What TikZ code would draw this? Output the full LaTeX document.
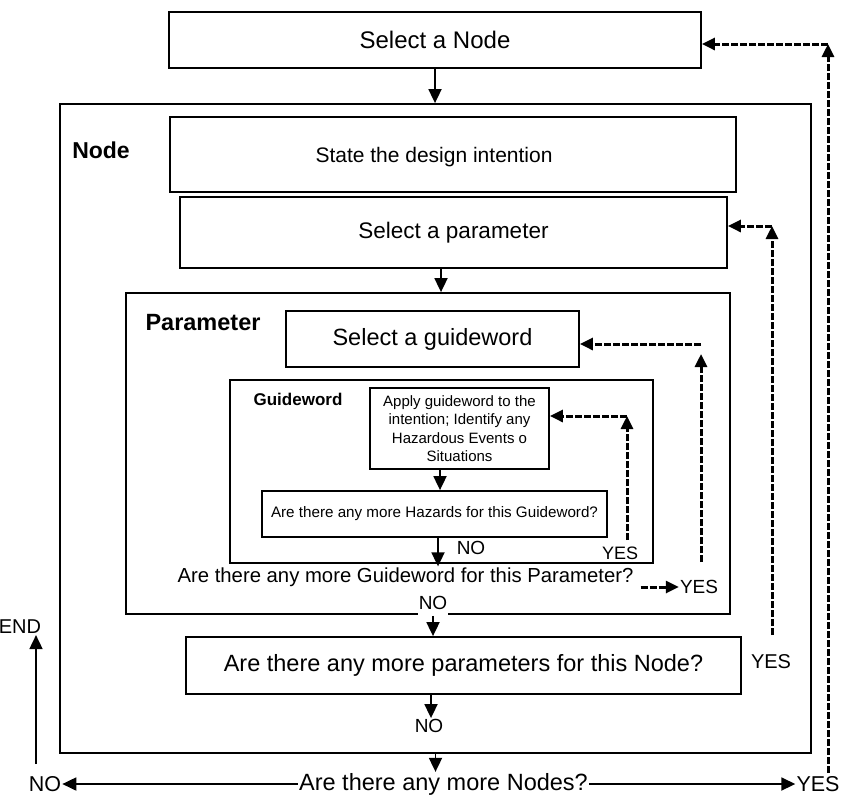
\documentclass[tikz,border=0pt]{standalone}
\usepackage{fontspec}
\setmainfont{Liberation Sans}
\usetikzlibrary{arrows.meta}

\begin{document}
\begin{tikzpicture}[x=1pt, y=-1pt,
  box/.style={draw, line width=1.8pt, inner sep=0pt},
  arr/.style={line width=1.8pt, -{Triangle[length=14pt,width=13pt]}},
  darr/.style={line width=3pt, dash pattern=on 7pt off 2pt, -{Triangle[length=13pt,width=12pt]}},
  lbl/.style={inner sep=1pt, font=\fontsize{19}{22}\selectfont}]
  \useasboundingbox (0,0) rectangle (842,796);
  % nested frames
  \node[box, minimum width=751pt, minimum height=649pt] (nodebox) at (435.5,428.5) {};
  \node[box, minimum width=604pt, minimum height=321pt] (parambox) at (428,453.5) {};
  \node[box, minimum width=423pt, minimum height=183pt] (guidebox) at (441.5,471.5) {};
  \node[font=\bfseries\fontsize{23}{26}\selectfont] (nodelbl) at (101,150) {Node};
  \node[font=\bfseries\fontsize{23.5}{27}\selectfont] (paramlbl) at (203,323) {Parameter};
  \node[font=\bfseries\fontsize{17}{20}\selectfont] (guidelbl) at (298,399) {Guideword};

  % steps
  \node[box, minimum width=532pt, minimum height=56pt, font=\fontsize{24}{28}\selectfont] (selnode) at (435,40) {Select a Node};
  \node[box, minimum width=566pt, minimum height=75pt] (state) at (453,154.5) {};
  \node[font=\fontsize{21}{25}\selectfont] (statetxt) at (434,157) {State the design intention};
  \node[box, minimum width=547pt, minimum height=71pt, font=\fontsize{22.5}{26}\selectfont] (selparam) at (453.5,232.5) {Select a parameter};
  \node[box, minimum width=293pt, minimum height=56pt, font=\fontsize{23.5}{27}\selectfont] (selguide) at (432.5,339) {Select a guideword};
  \node[box, minimum width=179pt, minimum height=81pt, align=center, font=\fontsize{15}{18.3}\selectfont] (apply) at (459.5,428.5) {Apply guideword to the\\intention; Identify any\\Hazardous Events o\\Situations};
  \node[box, minimum width=345pt, minimum height=46pt, font=\fontsize{15.2}{18}\selectfont] (hazards) at (434.5,514) {Are there any more Hazards for this Guideword?};
  \node[inner sep=1pt, font=\fontsize{20.3}{24}\selectfont] (moreguide) at (405.5,577) {Are there any more Guideword for this Parameter?};
  \node[box, minimum width=555pt, minimum height=57pt, font=\fontsize{23.5}{27}\selectfont] (moreparam) at (463.5,665.5) {Are there any more parameters for this Node?};
  \node[inner sep=1pt, font=\fontsize{23.5}{27}\selectfont] (morenodes) at (443.5,784) {Are there any more Nodes?};

  % answers
  \node[lbl] (noA) at (471,548) {NO};
  \node[lbl, font=\fontsize{18}{21}\selectfont] (yesA) at (620,553) {YES};
  \node[lbl, fill=white, inner ysep=6pt] (noB) at (433,603) {NO};
  \node[lbl] (yesB) at (699,587) {YES};
  \node[lbl, font=\fontsize{20}{24}\selectfont] (yesC) at (771,662) {YES};
  \node[lbl] (noC) at (429,726) {NO};
  \node[lbl, font=\fontsize{21.5}{25}\selectfont] (noD) at (45,784) {NO};
  \node[lbl, font=\fontsize{21.5}{25}\selectfont] (yesD) at (818,784) {YES};
  \node[lbl, font=\fontsize{20}{24}\selectfont] (endlbl) at (20,627) {END};

  % main flow
  \draw[arr] (selnode.south) -- (selnode.south |- nodebox.north);
  \draw[arr] ([xshift=-12.5pt]selparam.south) -- ([xshift=-12.5pt]selparam.south |- parambox.north);
  \draw[arr] ([xshift=-19.5pt]apply.south) -- ([xshift=-19.5pt]apply.south |- hazards.north);
  \draw[arr] ([xshift=3.5pt]hazards.south) -- ([xshift=3.5pt]hazards.south |- moreguide.north);
  \draw[arr] (noB.south) -- (noB.south |- moreparam.north);
  \draw[arr] ([xshift=-32.5pt]moreparam.south) -- ([xshift=-32.5pt]moreparam.south |- noC.north);
  \draw[arr] (nodebox.south) -- (nodebox.south |- morenodes.north);
  \draw[arr] (morenodes.west) -- (noD.east);
  \draw[arr] (morenodes.east) -- (yesD.west);
  \coordinate (endfoot) at (36,764);
  \draw[arr] (endfoot) -- (endfoot |- endlbl.south);

  % YES loops
  \coordinate (hazfoot) at (627,540);
  \coordinate (hazturn) at (627,416);
  \draw[darr] (hazfoot) -- (hazturn);
  \draw[darr] (hazturn) -- (hazturn -| apply.east);
  \draw[darr] ([xshift=6pt]moreguide.east |- yesB.west) -- (yesB.west);
  \coordinate (guidefoot) at (701,562);
  \coordinate (guideturn) at (701,344);
  \draw[darr] (guidefoot) -- ([yshift=-10pt]guideturn);
  \draw[darr] (guideturn) -- (guideturn -| selguide.east);
  \coordinate (paramfoot) at (772,635);
  \coordinate (paramturn) at (772,226);
  \draw[darr] (paramfoot) -- (paramturn);
  \draw[darr] (paramturn) -- (paramturn -| selparam.east);
  \coordinate (nodefoot) at (828,773);
  \coordinate (nodeturn) at (828,44);
  \draw[darr] (nodefoot) -- (nodeturn);
  \draw[darr] (nodeturn) -- (nodeturn -| selnode.east);
\end{tikzpicture}
\end{document}
